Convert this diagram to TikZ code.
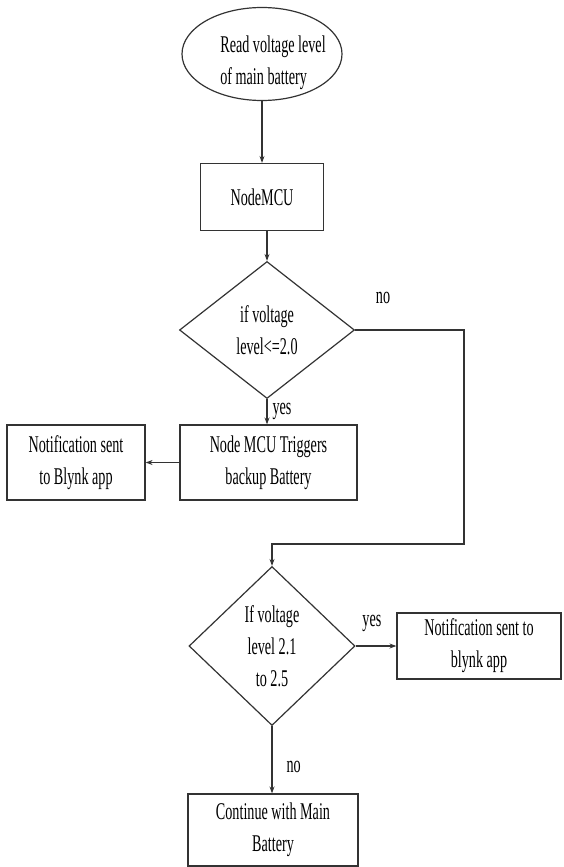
\documentclass[tikz,border=0pt]{standalone}
\usepackage{fontspec}
\setmainfont{Liberation Serif}[FakeStretch=0.59]
\usetikzlibrary{arrows.meta}
\usetikzlibrary{shapes.geometric}

\begin{document}
\begin{tikzpicture}[x=1pt,y=-1pt,
        txt/.style={font=\fontsize{24}{32}\selectfont, align=center, inner sep=0pt},
        box/.style={txt, draw=black!80, line width=1.2pt, rectangle},
        decision/.style={txt, draw=black!80, line width=1.2pt, diamond},
        flow/.style={draw=black!80, line width=1.2pt, -{Stealth[length=7pt,width=5pt]}}]
        \useasboundingbox[fill=white] (0,0) rectangle (563,867);

        \node[txt, ellipse, draw=black!80, line width=1.2pt, minimum width=160pt, minimum height=93pt, inner xsep=-16pt, inner ysep=-5pt, align=left, text height=66pt] (read) at (262,54) {\hspace*{22pt}Read voltage level\\ \hspace*{22pt}of main battery};
        \node[box, minimum width=123pt, minimum height=67pt] (mcu) at (262,197) {NodeMCU};
        \node[decision, minimum width=175pt, minimum height=137pt] (low) at (267,330) {if voltage\\ level<=2.0};
        \node[box, minimum width=177pt, minimum height=75pt] (backup) at (268.5,462.5) {Node MCU Triggers\\ backup Battery};
        \node[box, minimum width=138pt, minimum height=75pt] (notea) at (76,462.5) {Notification sent\\ to Blynk app};
        \node[decision, minimum width=166pt, minimum height=159pt] (mid) at (272,646) {If voltage\\ level 2.1\\ to 2.5};
        \node[box, minimum width=164pt, minimum height=66pt] (noteb) at (479,646) {Notification sent to\\ blynk app};
        \node[box, minimum width=170pt, minimum height=72pt] (main) at (273,830) {Continue with Main\\ Battery};
        \coordinate (turn) at (464,544);

        \draw[flow] (read) -- (mcu);
        \draw[flow] (mcu.south -| low.north) -- (low);
        \draw[flow] (low) -- (low.south |- backup.north) node[txt, right=5pt, pos=0.5] (yesa) {yes};
        \draw[flow] (backup) -- (notea);
        \draw[flow] (low.east) -| (turn) -| (mid.north);
        \draw[flow] (mid) -- (noteb) node[txt, above=14pt, pos=0.4] (yesb) {yes};
        \draw[flow] (mid) -- (mid.south |- main.north) node[txt, right=14pt, pos=0.6] (nob) {no};
        \node[txt] (noa) at (383,298) {no};
    \end{tikzpicture}
\end{document}
